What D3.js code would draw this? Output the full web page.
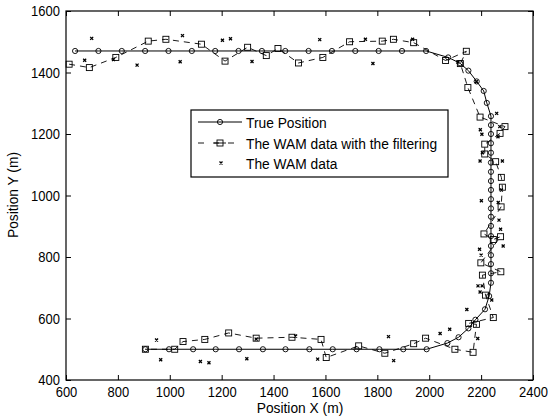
<!DOCTYPE html>
<html>
<head>
<meta charset="utf-8">
<script src="https://cdn.jsdelivr.net/npm/d3@7"></script>
<style>
  html, body { margin: 0; padding: 0; background: #fff; }
  svg text { font-family: "Liberation Sans", Arial, Helvetica, sans-serif; fill: #000; }
  /* slightly tall lettering */
  svg text.tall { transform-box: fill-box; transform-origin: 50% 50%; transform: scaleY(1.12); }
</style>
</head>
<body>
<svg id="chart" width="548" height="420"></svg>
<script>
// Axis ticks
const xTicks = [600, 800, 1000, 1200, 1400, 1600, 1800, 2000, 2200, 2400];
const yTicks = [400, 600, 800, 1000, 1200, 1400, 1600];

// True trajectory (m): top leg, right turn, right leg, bottom turn, bottom leg
const trueX = [635, 725, 815, 905, 995, 1085, 1175, 1265, 1355, 1445, 1535, 1625, 1715, 1805, 1895, 1988,
  2073, 2119, 2151, 2183, 2210, 2222,
  2238, 2238, 2238, 2238, 2238, 2238, 2238, 2238, 2238, 2238, 2238, 2238, 2238, 2238, 2238, 2238, 2238, 2238, 2238,
  2231, 2215, 2178, 2151, 2113, 2070,
  1990, 1900, 1808, 1720, 1628, 1538, 1446, 1359, 1267, 1177, 1090, 997, 906];
const trueY = [1470, 1470, 1470, 1470, 1470, 1470, 1470, 1470, 1470, 1470, 1470, 1470, 1470, 1470, 1470, 1470,
  1449, 1430, 1406, 1371, 1340, 1301,
  1258, 1229, 1200, 1170, 1139, 1107, 1077, 1047, 1018, 988, 958, 931, 901, 868, 836, 806, 777, 747, 716,
  673, 630, 596, 568, 539, 520,
  500, 500, 500, 500, 500, 500, 500, 500, 500, 500, 500, 500, 500];

// WAM estimates after filtering (m)
const filtX = [612, 690, 792, 917, 985, 1122, 1213, 1300, 1372, 1417, 1496, 1590, 1693, 1819, 1862, 1940,
  2063, 2143, 2120, 2149, 2196, 2292, 2273, 2214, 2214, 2256, 2278, 2282, 2277, 2211, 2247, 2275,
  2199, 2276, 2205, 2217, 2247, 2152, 2182,
  2169, 2099, 1986, 1940, 1829, 1728, 1603, 1583, 1471, 1333, 1227, 1135, 1051, 1019, 906];
const filtY = [1427, 1416, 1449, 1502, 1508, 1492, 1437, 1482, 1455, 1478, 1431, 1449, 1500, 1502, 1508, 1497,
  1439, 1469, 1429, 1351, 1255, 1224, 1202, 1167, 1135, 1110, 1059, 1027, 963, 875, 857, 866,
  781, 752, 741, 676, 603, 584, 581,
  490, 500, 536, 518, 487, 511, 473, 532, 539, 536, 553, 532, 525, 500, 500];

// Raw WAM measurements (m)
const rawX = [699, 672, 783, 874, 1049, 1040, 1203, 1234, 1317, 1578, 1754, 1783, 1936, 2110, 2182,
  2260, 2197, 2203, 2272, 2265, 2205, 2196, 2282, 2278, 2201, 2266, 2269, 2275, 2285, 2194, 2200,
  2188, 2204, 2196, 2241, 2145, 2079, 2042, 2187,
  1843, 1863, 1485, 1570, 1333, 1297, 1151, 1118, 965, 949];
const rawY = [1511, 1440, 1442, 1424, 1520, 1435, 1505, 1510, 1436, 1507, 1508, 1429, 1508, 1434, 1370,
  1267, 1214, 1199, 1224, 1191, 1139, 1112, 1112, 1018, 983, 977, 920, 890, 836, 825, 806,
  706, 706, 686, 660, 629, 565, 551, 535,
  541, 463, 543, 468, 533, 469, 456, 460, 466, 530];

const legendLabels = ["True Position", "The WAM data with the filtering", "The WAM data"];

const svg = d3.select("#chart");
const x = d3.scaleLinear().domain([600, 2400]).range([66, 533]);
const y = d3.scaleLinear().domain([400, 1600]).range([380, 11]);
const FS = "13px";     // tick labels
const FS_L = "13.8px"; // titles and legend

// inward ticks on all four sides
function styleAxis(g, showLabels) {
  g.select(".domain").remove();
  g.selectAll(".tick line").attr("stroke", "#000").attr("stroke-width", 1);
  g.selectAll(".tick text").style("font-size", FS).attr("fill", "#000").attr("class", "tall");
  if (!showLabels) g.selectAll(".tick text").remove();
}
svg.append("g").attr("transform", "translate(0,380)")
  .call(d3.axisBottom(x).tickValues(xTicks).tickSize(-5).tickPadding(7).tickFormat(d3.format("d")))
  .call(g => styleAxis(g, true));
svg.append("g").attr("transform", "translate(0,11)")
  .call(d3.axisTop(x).tickValues(xTicks).tickSize(-5))
  .call(g => styleAxis(g, false));
svg.append("g").attr("transform", "translate(66,0)")
  .call(d3.axisLeft(y).tickValues(yTicks).tickSize(-5).tickPadding(6).tickFormat(d3.format("d")))
  .call(g => styleAxis(g, true));
svg.append("g").attr("transform", "translate(533,0)")
  .call(d3.axisRight(y).tickValues(yTicks).tickSize(-5))
  .call(g => styleAxis(g, false));

// plot box
svg.append("rect").attr("x", x(600)).attr("y", y(1600))
  .attr("width", x(2400) - x(600)).attr("height", y(400) - y(1600))
  .attr("fill", "none").attr("stroke", "#000").attr("stroke-width", 1.2);

const line = d3.line().x(d => x(d[0])).y(d => y(d[1]));
const truePts = trueX.map((v, i) => [v, trueY[i]]);
const filtPts = filtX.map((v, i) => [v, filtY[i]]);
const rawPts = rawX.map((v, i) => [v, rawY[i]]);

// filtered estimates: dashed line with square markers
svg.append("path").attr("d", line(filtPts)).attr("fill", "none")
  .attr("stroke", "#000").attr("stroke-width", 0.9).attr("stroke-dasharray", "6,5");
svg.append("g").selectAll("rect").data(filtPts).join("rect")
  .attr("x", d => x(d[0]) - 3).attr("y", d => y(d[1]) - 3)
  .attr("width", 6).attr("height", 6)
  .attr("fill", "none").attr("stroke", "#000").attr("stroke-width", 0.9);

// true trajectory: solid line with circle markers
svg.append("path").attr("d", line(truePts)).attr("fill", "none")
  .attr("stroke", "#000").attr("stroke-width", 1);
svg.append("g").selectAll("circle").data(truePts).join("circle")
  .attr("cx", d => x(d[0])).attr("cy", d => y(d[1])).attr("r", 2.6)
  .attr("fill", "none").attr("stroke", "#000").attr("stroke-width", 0.9);

// raw measurements: small crosses
const cross = (cx, cy, s) => `M${cx - s},${cy - s}L${cx + s},${cy + s}M${cx - s},${cy + s}L${cx + s},${cy - s}`;
svg.append("g").selectAll("path").data(rawPts).join("path")
  .attr("d", d => cross(x(d[0]), y(d[1]), 1.5))
  .attr("stroke", "#000").attr("stroke-width", 1.3).attr("fill", "none");

// axis titles
svg.append("text").attr("class", "tall").attr("x", 300).attr("y", 412).attr("text-anchor", "middle")
  .style("font-size", FS_L).text("Position X (m)");
svg.append("text").attr("transform", "translate(18,195) rotate(-90) scale(1,1.12)").attr("text-anchor", "middle")
  .style("font-size", FS_L).text("Position Y (m)");

// legend
const lg = svg.append("g");
lg.append("rect").attr("x", 191).attr("y", 110).attr("width", 257).attr("height", 67)
  .attr("fill", "#fff").attr("stroke", "#000").attr("stroke-width", 1.2);
const rowY = [122, 143, 163];
// True Position sample
lg.append("line").attr("x1", 198).attr("x2", 242).attr("y1", rowY[0]).attr("y2", rowY[0])
  .attr("stroke", "#000").attr("stroke-width", 1);
lg.append("circle").attr("cx", 220).attr("cy", rowY[0]).attr("r", 2.6)
  .attr("fill", "none").attr("stroke", "#000").attr("stroke-width", 0.9);
// filtered sample
lg.append("line").attr("x1", 198).attr("x2", 242).attr("y1", rowY[1]).attr("y2", rowY[1])
  .attr("stroke", "#000").attr("stroke-width", 0.9).attr("stroke-dasharray", "6,9");
lg.append("line").attr("x1", 214).attr("x2", 226).attr("y1", rowY[1]).attr("y2", rowY[1])
  .attr("stroke", "#000").attr("stroke-width", 0.9);
lg.append("rect").attr("x", 217).attr("y", rowY[1] - 3).attr("width", 6).attr("height", 6)
  .attr("fill", "none").attr("stroke", "#000").attr("stroke-width", 0.9);
// raw sample
lg.append("path").attr("d", cross(221, rowY[2], 1.5))
  .attr("stroke", "#000").attr("stroke-width", 1.3);
lg.selectAll("text.lbl").data(legendLabels).join("text").attr("class", "lbl tall")
  .attr("x", 246).attr("y", (d, i) => rowY[i]).attr("dy", "0.36em")
  .style("font-size", FS_L).text(d => d);
</script>
</body>
</html>
